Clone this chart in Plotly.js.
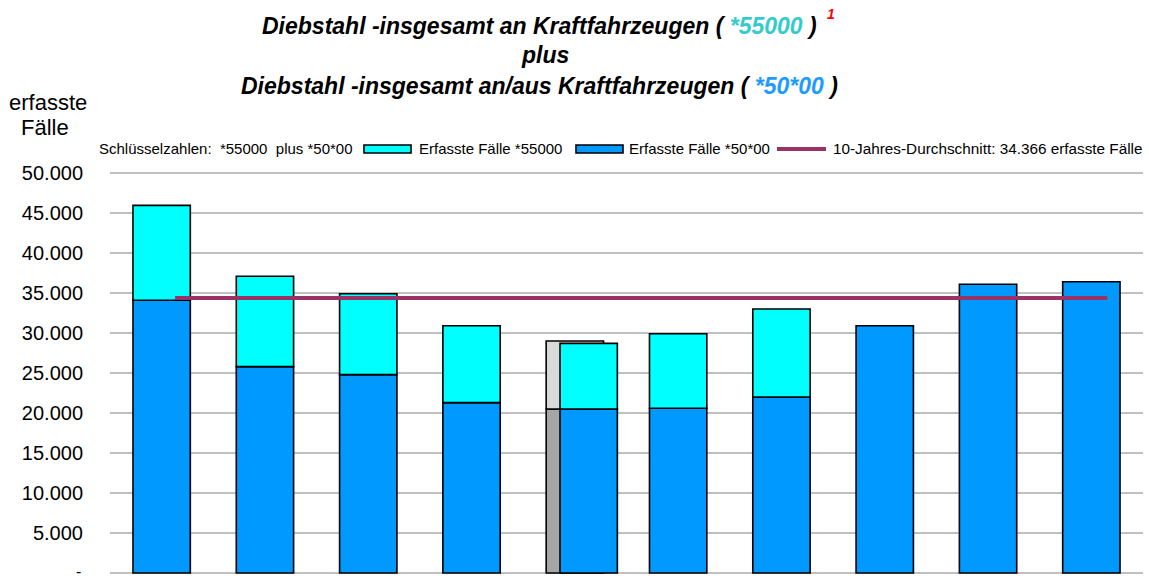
<!DOCTYPE html>
<html>
<head>
<meta charset="utf-8">
<script src="https://cdn.plot.ly/plotly-3.0.1.min.js"></script>
<style>html,body{margin:0;padding:0;background:#fff}#chart{width:1149px;height:579px}</style>
</head>
<body>
<div id="chart"></div>
<script>
// ---- data ----
const categories = [0, 1, 2, 3, 4, 5, 6, 7, 8, 9];
const faelle5000 = [34100, 25800, 24800, 21300, 20500, 20600, 22000, 30900, 36100, 36400]; // *50*00
const faelle55000 = [11850, 11300, 10100, 9600, 8200, 9300, 11000, 0, 0, 0];               // *55000 (stacked on top)
const shadowCategory = [4];
const shadowLower = [20500];
const shadowUpper = [8500];
const durchschnitt = 34366;
const yTickVals = [0, 5000, 10000, 15000, 20000, 25000, 30000, 35000, 40000, 45000, 50000];
const yTickText = ['-', '5.000', '10.000', '15.000', '20.000', '25.000', '30.000', '35.000', '40.000', '45.000', '50.000'];

// ---- style ----
const BAR_W = 0.555;
const baseOffset = -BAR_W / 2;
const shiftedIdx = 4, shiftAmount = 0.134;
const offsets = categories.map((c, i) => i === shiftedIdx ? baseOffset + shiftAmount : baseOffset);
const outline = {color: '#000', width: 1.6};
const FONT = 'Arial, "Liberation Sans", sans-serif';

const traces = [
  {type: 'bar', x: shadowCategory, y: shadowLower, width: BAR_W, offset: baseOffset,
   marker: {color: '#A6A6A6', line: outline}, hoverinfo: 'skip', showlegend: false},
  {type: 'bar', x: shadowCategory, y: shadowUpper, base: shadowLower, width: BAR_W, offset: baseOffset,
   marker: {color: '#D9D9D9', line: outline}, hoverinfo: 'skip', showlegend: false},
  {type: 'bar', name: 'Erfasste Fälle *50*00', x: categories, y: faelle5000, width: BAR_W, offset: offsets,
   marker: {color: '#0099FF', line: outline}, showlegend: false},
  {type: 'bar', name: 'Erfasste Fälle *55000', x: categories.slice(0, 7), y: faelle55000.slice(0, 7),
   base: faelle5000.slice(0, 7), width: BAR_W, offset: offsets.slice(0, 7),
   marker: {color: '#00FFFF', line: outline}, showlegend: false},
  {type: 'scatter', mode: 'lines', name: '10-Jahres-Durchschnitt',
   x: [categories[0] + 0.13, categories[9] + 0.155], y: [durchschnitt, durchschnitt],
   line: {color: '#993366', width: 4}, showlegend: false, hoverinfo: 'skip'}
];

// plot area: x 110..1143, y range -500..50500 mapped to 169..577 (0 at 573, 50000 at 173)
const px = p => (p - 110) / 1033;
const py = p => (577 - p) / 408;

const TS = 23;
const annotations = [
  {text: '<b><i>Diebstahl -insgesamt an Kraftfahrzeugen ( <span style="color:#33CCCC">*55000</span> )</i></b>',
   x: px(539), y: py(26), xanchor: 'center', yanchor: 'middle', font: {size: TS, color: '#000', family: FONT}},
  {text: '<b><i>1</i></b>',
   x: px(825), y: py(14), xanchor: 'left', yanchor: 'middle', font: {size: 14, color: '#FF0000', family: FONT}},
  {text: '<b><i>plus</i></b>',
   x: px(545), y: py(55), xanchor: 'center', yanchor: 'middle', font: {size: TS, color: '#000', family: FONT}},
  {text: '<b><i>Diebstahl -insgesamt an/aus Kraftfahrzeugen ( <span style="color:#1E9BFF">*50*00</span> )</i></b>',
   x: px(539), y: py(86), xanchor: 'center', yanchor: 'middle', font: {size: TS, color: '#000', family: FONT}},
  {text: 'erfasste', x: px(48), y: py(103), xanchor: 'center', yanchor: 'middle', font: {size: 22, color: '#000', family: FONT}},
  {text: 'Fälle', x: px(45), y: py(128), xanchor: 'center', yanchor: 'middle', font: {size: 22, color: '#000', family: FONT}},
  {text: 'Schlüsselzahlen:  *55000  plus *50*00', x: px(97), y: py(149), xanchor: 'left', yanchor: 'middle', font: {size: 15, color: '#000', family: FONT}},
  {text: 'Erfasste Fälle *55000', x: px(417), y: py(149), xanchor: 'left', yanchor: 'middle', font: {size: 15, color: '#000', family: FONT}},
  {text: 'Erfasste Fälle *50*00', x: px(627), y: py(149), xanchor: 'left', yanchor: 'middle', font: {size: 15, color: '#000', family: FONT}},
  {text: '10-Jahres-Durchschnitt: 34.366 erfasste Fälle', x: px(831), y: py(149), xanchor: 'left', yanchor: 'middle', font: {size: 15.3, color: '#000', family: FONT}},
  // zero tick label (drawn explicitly at the axis bottom)
  {text: yTickText[0], x: 0, xshift: -28, y: py(571), xanchor: 'right', yanchor: 'middle', borderpad: 0, font: {size: 16, color: '#000', family: FONT}}
].map(a => Object.assign({xref: 'paper', yref: 'paper', showarrow: false}, a));

const shapes = [
  {type: 'rect', x0: px(364), x1: px(411), y0: py(145), y1: py(153), fillcolor: '#00FFFF', line: {color: '#000', width: 1.6}, layer: 'above'},
  {type: 'rect', x0: px(576), x1: px(623), y0: py(145), y1: py(153), fillcolor: '#0099FF', line: {color: '#000', width: 1.6}, layer: 'above'},
  {type: 'line', x0: px(777), x1: px(826), y0: py(149), y1: py(149), line: {color: '#993366', width: 4}, layer: 'above'},
  // baseline gridline at 0
  {type: 'line', x0: 0, x1: 1, y0: yTickVals[0], y1: yTickVals[0], yref: 'y', line: {color: '#C0C0C0', width: 2}, layer: 'below'}
].map(s => Object.assign({xref: 'paper', yref: 'paper'}, s));

const layout = {
  width: 1149, height: 579,
  margin: {l: 110, r: 6, t: 169, b: 2, pad: 0},
  paper_bgcolor: '#fff', plot_bgcolor: '#fff',
  barmode: 'overlay', showlegend: false,
  font: {family: FONT, color: '#000'},
  xaxis: {range: [-0.5, 9.5], showticklabels: false, showgrid: false, zeroline: false, ticks: '', fixedrange: true},
  yaxis: {range: [-500, 50500], tickvals: yTickVals.slice(1), ticktext: yTickText.slice(1), showgrid: true, gridcolor: '#C0C0C0', gridwidth: 2,
          zeroline: false, ticks: '', ticklabelstandoff: 26, tickfont: {size: 20, family: FONT, color: '#000'}, fixedrange: true},
  annotations: annotations, shapes: shapes
};

Plotly.newPlot('chart', traces, layout, {displayModeBar: false, staticPlot: true});
</script>
</body>
</html>
